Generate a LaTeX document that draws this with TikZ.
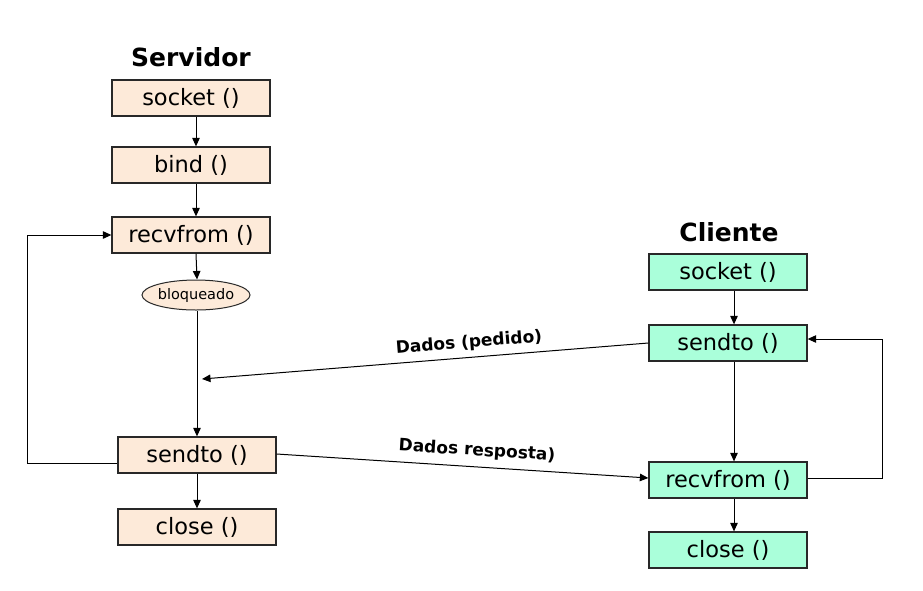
\documentclass[tikz,border=0pt]{standalone}
\usepackage{fontspec}
\setmainfont{DejaVu Sans}
\usetikzlibrary{arrows.meta,shapes.geometric}
\definecolor{srvfill}{RGB}{253,234,217}
\definecolor{clifill}{RGB}{170,255,218}
\definecolor{edgegray}{RGB}{40,40,40}
\begin{document}
\begin{tikzpicture}[x=1pt,y=-1pt,
  fnbox/.style={draw=edgegray,line width=1.3pt,minimum width=158pt,minimum height=36pt,inner sep=0pt,font=\fontsize{22.5}{25}\selectfont},
  srv/.style={fnbox,fill=srvfill},
  cli/.style={fnbox,fill=clifill},
  ttl/.style={font=\fontsize{25}{28}\selectfont\bfseries},
  lbl/.style={font=\fontsize{17}{19}\selectfont\bfseries},
  arr/.style={line width=1pt,-{Triangle[length=8.5pt,width=7.5pt]}},
  ln/.style={line width=1pt}]
\useasboundingbox (0,0) rectangle (923,590);
% Server
\node[ttl] (tsrv) at (191,57) {Servidor};
\node[srv] (ssock) at (191,98) {socket ()};
\node[srv] (sbind) at (191,165) {bind ()};
\node[srv] (srecv) at (191,235) {recvfrom ()};
\node[ellipse,draw=edgegray,line width=1pt,fill=srvfill,minimum width=100pt,minimum height=30pt,inner sep=0pt,font=\fontsize{14.5}{16}\selectfont] (blq) at (196,295) {bloqueado};
\node[srv] (ssend) at (197,455) {sendto ()};
\node[srv] (sclose) at (197,527) {close ()};
% Client
\node[ttl] (tcli) at (729,232) {Cliente};
\node[cli] (csock) at (728,272) {socket ()};
\node[cli] (csend) at (728,343) {sendto ()};
\node[cli] (crecv) at (728,480) {recvfrom ()};
\node[cli] (cclose) at (728,550) {close ()};
% server arrows
\draw[arr] ([xshift=5pt]ssock.south) -- ([xshift=5pt]sbind.north);
\draw[arr] ([xshift=5pt]sbind.south) -- ([xshift=5pt]srecv.north);
\draw[arr] ([xshift=5pt]srecv.south) -- ([xshift=1pt]blq.north);
\draw[arr] ([xshift=1pt]blq.south) -- (ssend.north);
\draw[arr] (ssend.south) -- (sclose.north);
\draw[arr] ([yshift=-8pt]ssend.west) -- ++(-90,0) |- (srecv.west);
% client arrows
\draw[arr] ([xshift=6pt]csock.south) -- ([xshift=6pt]csend.north);
\draw[arr] ([xshift=6pt]csend.south) -- ([xshift=6pt]crecv.north);
\draw[arr] ([xshift=6pt]crecv.south) -- ([xshift=6pt]cclose.north);
\draw[arr] ([yshift=2pt]crecv.east) -- ++(75,0) |- ([yshift=4pt]csend.east);
% data exchange
\coordinate (req) at (202,379);
\draw[arr] (csend.west) -- (req);
\draw[arr] ([yshift=1pt]ssend.east) -- ([yshift=2pt]crecv.west);
\node[lbl,rotate=4.6] (lreq) at (469,343) {Dados (pedido)};
\node[lbl,rotate=-3.7] (lresp) at (477,451) {Dados resposta)};
\end{tikzpicture}
\end{document}
